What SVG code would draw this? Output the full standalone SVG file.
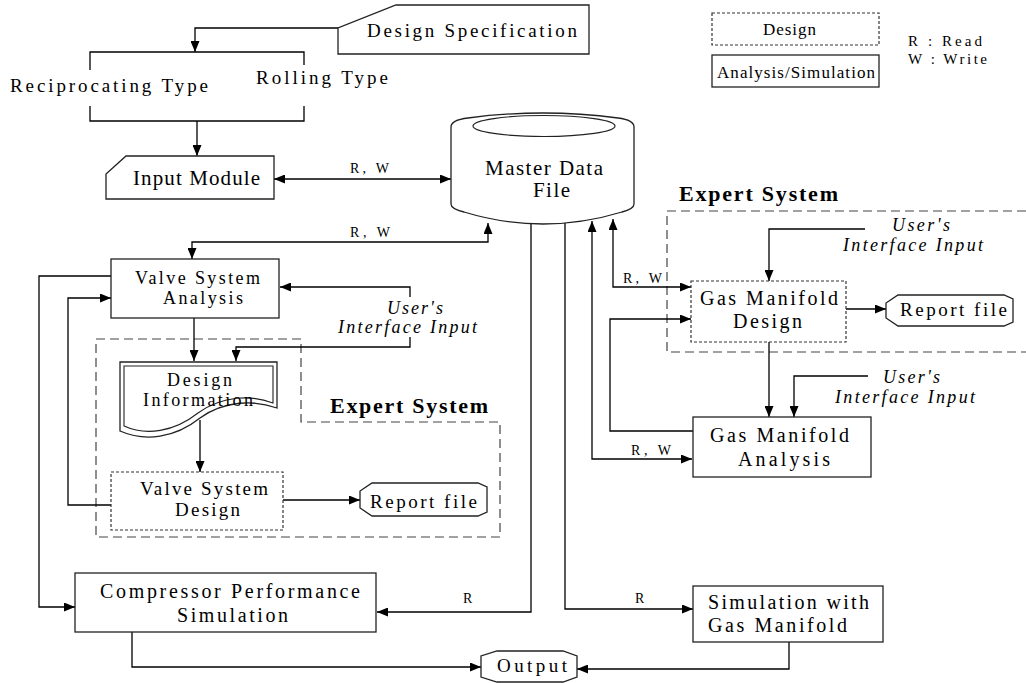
<svg xmlns="http://www.w3.org/2000/svg" width="1026" height="683" viewBox="0 0 1026 683">
  <defs>
    <style>
      .ln { fill: none; stroke: #000; stroke-width: 1.3; }
      .box { fill: #fff; stroke: #222; stroke-width: 1.3; }
      .dbox { fill: #fff; stroke: #333; stroke-width: 1.2; stroke-dasharray: 3 2; }
      .region { fill: none; stroke: #444; stroke-width: 1.2; stroke-dasharray: 9 5; }
      .t { font-family: "Liberation Serif", "Times New Roman", serif; fill: #000; }
      .it { font-style: italic; }
      .bd { font-weight: bold; }
    </style>
    <marker id="ah" viewBox="0 0 11 9" refX="11" refY="4.5" markerWidth="11" markerHeight="9" markerUnits="userSpaceOnUse" orient="auto-start-reverse">
      <path d="M0,0 L11,4.5 L0,9 Z" fill="#000"/>
    </marker>
  </defs>

  <rect width="1026" height="683" fill="#fff"/>

  <!-- expert system regions -->
  <g id="expert-left">
    <path class="region" d="M96,339 H301 V422 H500 V537 H96 Z"/>
    <text class="t bd" x="330" y="413" font-size="22" textLength="158" lengthAdjust="spacing">Expert System</text>
  </g>
  <g id="expert-right">
    <path class="region" d="M1040,211 H667 V352 H1040"/>
    <text class="t bd" x="679" y="201" font-size="22" textLength="159" lengthAdjust="spacing">Expert System</text>
  </g>

  <!-- connectors -->
  <g id="connectors">
    <path class="ln" d="M338,28 H195 V52" marker-end="url(#ah)"/>
    <path class="ln" d="M90,70 V52 H304 V65"/>
    <path class="ln" d="M90,106 V121 H304 V106"/>
    <path class="ln" d="M197,121 V156" marker-end="url(#ah)"/>
    <path class="ln" d="M274,179 H451" marker-start="url(#ah)" marker-end="url(#ah)"/>
    <path class="ln" d="M192,259 V242 H488 V223" marker-start="url(#ah)" marker-end="url(#ah)"/>
    <path class="ln" d="M111,276 H39 V607 H75" marker-end="url(#ah)"/>
    <path class="ln" d="M111,505 H68 V298 H111" marker-end="url(#ah)"/>
    <path class="ln" d="M410,297 V287 H280" marker-end="url(#ah)"/>
    <path class="ln" d="M410,337 V347 H236 V361" marker-end="url(#ah)"/>
    <path class="ln" d="M194,318 V361" marker-end="url(#ah)"/>
    <path class="ln" d="M200,420 V472" marker-end="url(#ah)"/>
    <path class="ln" d="M283,500 H360" marker-end="url(#ah)"/>
    <path class="ln" d="M531,224 V612 H377" marker-end="url(#ah)"/>
    <path class="ln" d="M565,222 V609 H693" marker-end="url(#ah)"/>
    <path class="ln" d="M692,459 H592 V221" marker-start="url(#ah)" marker-end="url(#ah)"/>
    <path class="ln" d="M691,287 H613 V219" marker-start="url(#ah)" marker-end="url(#ah)"/>
    <path class="ln" d="M693,431 H610 V319 H691" marker-end="url(#ah)"/>
    <path class="ln" d="M865,229 H769 V281" marker-end="url(#ah)"/>
    <path class="ln" d="M769,342 V417" marker-end="url(#ah)"/>
    <path class="ln" d="M868,376 H794 V417" marker-end="url(#ah)"/>
    <path class="ln" d="M846,309 H886" marker-end="url(#ah)"/>
    <path class="ln" d="M132,632 V667 H481" marker-end="url(#ah)"/>
    <path class="ln" d="M789,642 V669 H577" marker-end="url(#ah)"/>

    <text class="t" x="350" y="173" font-size="14" textLength="39" lengthAdjust="spacing">R, W</text>
    <text class="t" x="350" y="237" font-size="14" textLength="40" lengthAdjust="spacing">R, W</text>
    <text class="t" x="623" y="283" font-size="14" textLength="39" lengthAdjust="spacing">R, W</text>
    <text class="t" x="631" y="455" font-size="14" textLength="40" lengthAdjust="spacing">R, W</text>
    <text class="t" x="463" y="603" font-size="14">R</text>
    <text class="t" x="635" y="603" font-size="14">R</text>

    <text class="t it" x="387" y="314" font-size="18" textLength="56" lengthAdjust="spacing">User's</text>
    <text class="t it" x="338" y="333" font-size="18" textLength="139" lengthAdjust="spacing">Interface Input</text>
    <text class="t it" x="892" y="231" font-size="18" textLength="58" lengthAdjust="spacing">User's</text>
    <text class="t it" x="843" y="251" font-size="18" textLength="140" lengthAdjust="spacing">Interface Input</text>
    <text class="t it" x="883" y="383" font-size="18" textLength="57" lengthAdjust="spacing">User's</text>
    <text class="t it" x="835" y="403" font-size="18" textLength="140" lengthAdjust="spacing">Interface Input</text>
  </g>

  <!-- nodes -->
  <g id="design-spec">
    <polygon class="box" points="396,5 589,5 589,54 338,54 338,28"/>
    <text class="t" x="367" y="37" font-size="19" textLength="210" lengthAdjust="spacing">Design Specification</text>
  </g>
  <g id="compressor-types">
    <text class="t" x="10" y="92" font-size="19" textLength="198" lengthAdjust="spacing">Reciprocating Type</text>
    <text class="t" x="256" y="84" font-size="19" textLength="132" lengthAdjust="spacing">Rolling Type</text>
  </g>
  <g id="input-module">
    <polygon class="box" points="126,156 274,156 274,199 106,199 106,174"/>
    <text class="t" x="133" y="185" font-size="21" textLength="127" lengthAdjust="spacing">Input Module</text>
  </g>
  <g id="master-data-file">
    <path class="box" d="M451,127 Q451,120 468,118 Q543,108 618,118 Q634,120 634,127 V204 Q634,209 622,212 Q543,236 464,212 Q451,209 451,204 Z"/>
    <ellipse cx="544" cy="126" rx="71" ry="10.5" fill="none" stroke="#222" stroke-width="1.2"/>
    <text class="t" x="485" y="175" font-size="21" textLength="118" lengthAdjust="spacing">Master Data</text>
    <text class="t" x="533" y="197" font-size="21" textLength="37" lengthAdjust="spacing">File</text>
  </g>
  <g id="valve-system-analysis">
    <rect class="box" x="111" y="259" width="168" height="59"/>
    <text class="t" x="135" y="284" font-size="18" textLength="125" lengthAdjust="spacing">Valve System</text>
    <text class="t" x="163" y="304" font-size="18" textLength="80" lengthAdjust="spacing">Analysis</text>
  </g>
  <g id="design-information">
    <path class="box" d="M120,362 H277 V408 C255,400 225,400 200,418 C175,438 145,442 120,431 Z"/>
    <path fill="none" stroke="#222" stroke-width="1.1" d="M124,366 H273 V403 C252,395 223,395 198,413 C174,432 146,436 124,426 Z"/>
    <text class="t" x="167" y="386" font-size="18" textLength="65" lengthAdjust="spacing">Design</text>
    <text class="t" x="143" y="406" font-size="18" textLength="110" lengthAdjust="spacing">Information</text>
  </g>
  <g id="valve-system-design">
    <rect class="dbox" x="111" y="472" width="172" height="58"/>
    <text class="t" x="140" y="495" font-size="19" textLength="128" lengthAdjust="spacing">Valve System</text>
    <text class="t" x="175" y="516" font-size="19" textLength="65" lengthAdjust="spacing">Design</text>
  </g>
  <g id="report-file-valve">
    <polygon class="box" points="372,483 478,483 487,487 487,512 478,516 372,516 360,508 360,491"/>
    <text class="t" x="370" y="508" font-size="19" textLength="107" lengthAdjust="spacing">Report file</text>
  </g>
  <g id="gas-manifold-design">
    <rect class="dbox" x="691" y="281" width="155" height="61"/>
    <text class="t" x="700" y="305" font-size="20" textLength="138" lengthAdjust="spacing">Gas Manifold</text>
    <text class="t" x="733" y="328" font-size="20" textLength="69" lengthAdjust="spacing">Design</text>
  </g>
  <g id="report-file-manifold">
    <polygon class="box" points="898,295 1004,295 1013,299 1013,322 1004,326 898,326 886,318 886,303"/>
    <text class="t" x="900" y="316" font-size="19" textLength="107" lengthAdjust="spacing">Report file</text>
  </g>
  <g id="gas-manifold-analysis">
    <rect class="box" x="693" y="417" width="178" height="60"/>
    <text class="t" x="710" y="442" font-size="20" textLength="139" lengthAdjust="spacing">Gas Manifold</text>
    <text class="t" x="738" y="466" font-size="20" textLength="92" lengthAdjust="spacing">Analysis</text>
  </g>
  <g id="compressor-simulation">
    <rect class="box" x="75" y="573" width="301" height="59"/>
    <text class="t" x="100" y="598" font-size="20" textLength="260" lengthAdjust="spacing">Compressor Performance</text>
    <text class="t" x="177" y="622" font-size="20" textLength="111" lengthAdjust="spacing">Simulation</text>
  </g>
  <g id="simulation-gas-manifold">
    <rect class="box" x="693" y="586" width="190" height="56"/>
    <text class="t" x="708" y="609" font-size="20" textLength="161" lengthAdjust="spacing">Simulation with</text>
    <text class="t" x="708" y="632" font-size="20" textLength="139" lengthAdjust="spacing">Gas Manifold</text>
  </g>
  <g id="output">
    <polygon class="box" points="497,651 563,651 577,656 577,677 563,682 497,682 481,677 481,656"/>
    <text class="t" x="497" y="672" font-size="19" textLength="70" lengthAdjust="spacing">Output</text>
  </g>

  <!-- legend -->
  <g id="legend">
    <rect class="dbox" x="712" y="13" width="167" height="32"/>
    <text class="t" x="763" y="35" font-size="17" textLength="53" lengthAdjust="spacing">Design</text>
    <rect class="box" x="712" y="55" width="167" height="32"/>
    <text class="t" x="717" y="78" font-size="17" textLength="158" lengthAdjust="spacing">Analysis/Simulation</text>
    <text class="t" x="908" y="46" font-size="15" textLength="74" lengthAdjust="spacing">R  : Read</text>
    <text class="t" x="908" y="64" font-size="15" textLength="79" lengthAdjust="spacing">W : Write</text>
  </g>
</svg>
